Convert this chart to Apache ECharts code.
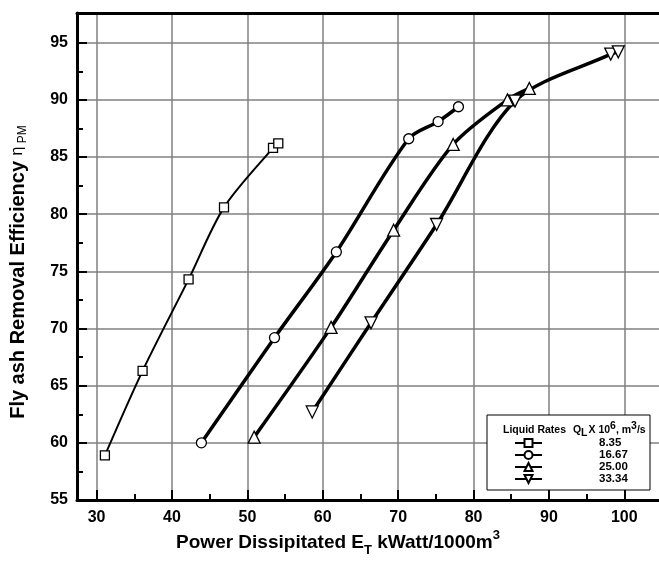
<!DOCTYPE html>
<html>
<head>
<meta charset="utf-8">
<script src="https://cdn.jsdelivr.net/npm/echarts@6/dist/echarts.min.js"></script>
<style>
  html, body { margin: 0; padding: 0; background: #fff; }
  #chart { width: 659px; height: 566px; }
</style>
</head>
<body>
<div id="chart"></div>
<script>
  // liquid rates Q_L x 10^6 m3/s
  const rateNames = ['8.35', '16.67', '25.00', '33.34']
  // power dissipated (x) and fly ash removal efficiency (y)
  const power835 = [31.1, 36.1, 42.2, 46.9, 53.4, 54.1]
  const eff835 = [58.9, 66.3, 74.3, 80.6, 85.8, 86.2]
  const power1667 = [43.9, 53.6, 61.8, 71.4, 75.3, 78.0]
  const eff1667 = [60.0, 69.2, 76.7, 86.6, 88.1, 89.4]
  const power2500 = [50.9, 61.1, 69.4, 77.3, 84.5, 87.4]
  const eff2500 = [60.5, 70.1, 78.6, 86.1, 90.0, 91.0]
  const power3334 = [58.6, 66.4, 75.1, 85.5, 98.2, 99.2]
  const eff3334 = [62.7, 70.5, 79.1, 89.9, 94.0, 94.2]

  const xMajorTicks = [30, 40, 50, 60, 70, 80, 90, 100]
  const xMinorTicks = [35, 45, 55, 65, 75, 85, 95]
  const yMajorTicks = [55, 60, 65, 70, 75, 80, 85, 90, 95]
  const yMinorTicks = [57.5, 62.5, 67.5, 72.5, 77.5, 82.5, 87.5, 92.5, 97.5]

  const font = 'Liberation Sans, Arial, sans-serif'
  const xMin = 27.4, xMax = 104.6, yMin = 55, yMax = 97.6

  function pairs(xs, ys) {
    return xs.map((x, i) => [x, ys[i]])
  }

  function makeSeries(name, xs, ys, symbol, size, width, rotate) {
    return {
      name: name,
      type: 'line',
      data: pairs(xs, ys),
      smooth: 0.3,
      symbol: symbol,
      symbolSize: size,
      symbolRotate: rotate || 0,
      showAllSymbol: true,
      lineStyle: { color: '#000', width: width },
      itemStyle: { color: '#fff', borderColor: '#000', borderWidth: 1.3 },
      emphasis: { disabled: true },
      z: 5,
    }
  }

  const chart = echarts.init(document.getElementById('chart'))
  const option = {
    animation: false,
    backgroundColor: '#fff',
    grid: { left: 77, right: 0, top: 13, bottom: 66 },
    xAxis: [
      {
        type: 'value', min: xMin, max: xMax, position: 'bottom',
        axisLine: { show: true, onZero: false, lineStyle: { color: '#000', width: 3 } },
        axisTick: { show: true, inside: true, length: 10, customValues: xMajorTicks, lineStyle: { color: '#000', width: 2 } },
        axisLabel: { customValues: xMajorTicks, color: '#000', fontFamily: font, fontSize: 16, fontWeight: 'bold', margin: 10 },
        splitLine: { show: true, lineStyle: { color: '#808080', width: 1.5 } },
      },
      {
        type: 'value', min: xMin, max: xMax, position: 'bottom',
        axisLine: { show: false },
        axisTick: { show: true, inside: true, length: 6, customValues: xMinorTicks, lineStyle: { color: '#000', width: 2 } },
        axisLabel: { show: false },
        splitLine: { show: false },
      },
      {
        type: 'value', min: xMin, max: xMax, position: 'top',
        axisLine: { show: true, lineStyle: { color: '#000', width: 3 } },
        axisTick: { show: false },
        axisLabel: { show: false },
        splitLine: { show: false },
      },
    ],
    yAxis: [
      {
        type: 'value', min: yMin, max: yMax, position: 'left',
        axisLine: { show: true, onZero: false, lineStyle: { color: '#000', width: 3 } },
        axisTick: { show: true, inside: true, length: 10, customValues: yMajorTicks, lineStyle: { color: '#000', width: 2 } },
        axisLabel: { customValues: yMajorTicks, color: '#000', fontFamily: font, fontSize: 16, fontWeight: 'bold', margin: 9 },
        splitLine: { show: true, lineStyle: { color: '#808080', width: 1.5 } },
      },
      {
        type: 'value', min: yMin, max: yMax, position: 'left',
        axisLine: { show: false },
        axisTick: { show: true, inside: true, length: 6, customValues: yMinorTicks, lineStyle: { color: '#000', width: 2 } },
        axisLabel: { show: false },
        splitLine: { show: false },
      },
    ],
    legend: {
      data: rateNames,
      orient: 'vertical',
      left: 514,
      top: 437,
      itemWidth: 27,
      itemHeight: 10,
      itemGap: 0,
      padding: 0,
      z: 60,
      selectedMode: false,
      textStyle: { color: '#000', fontFamily: font, fontSize: 11.5, fontWeight: 'bold', lineHeight: 11.7, padding: [0, 0, 0, 52] },
    },
    graphic: [
      {
        type: 'rect', z: 50,
        shape: { x: 487, y: 415, width: 163, height: 75 },
        style: { fill: '#fff', stroke: '#000', lineWidth: 1 },
      },
      {
        type: 'text', z: 55, left: 503, top: 421,
        style: {
          text: '{a|Liquid Rates }{q|Q}{s|L}{a|X 10}{p|6}{a|, m}{p|3}{a|/s}',
          rich: {
            a: { fontFamily: font, fontSize: 10.5, fontWeight: 'bold', fill: '#000', lineHeight: 18 },
            q: { fontFamily: font, fontSize: 10.5, fontWeight: 'bold', fill: '#000', lineHeight: 18, padding: [0, 0, 0, 4] },
            s: { fontFamily: font, fontSize: 10.5, fontWeight: 'bold', fill: '#000', lineHeight: 9, verticalAlign: 'bottom', padding: [0, 1, 0, 0] },
            p: { fontFamily: font, fontSize: 10.5, fontWeight: 'bold', fill: '#000', lineHeight: 9, verticalAlign: 'top' },
          },
        },
      },
      {
        type: 'text', z: 55, x: 338, y: 543,
        style: {
          text: '{t|Power Dissipitated E}{s|T}{t| kWatt/1000m}{p|3}',
          align: 'center', verticalAlign: 'middle',
          rich: {
            t: { fontFamily: font, fontSize: 19, fontWeight: 'bold', fill: '#000', lineHeight: 28 },
            s: { fontFamily: font, fontSize: 13, fontWeight: 'bold', fill: '#000', lineHeight: 14, verticalAlign: 'bottom' },
            p: { fontFamily: font, fontSize: 13, fontWeight: 'bold', fill: '#000', lineHeight: 14, verticalAlign: 'top' },
          },
        },
      },
      {
        type: 'text', z: 55, x: 18, y: 272, rotation: Math.PI / 2,
        style: {
          text: '{t|Fly ash Removal Efficiency }{e|η}{s| PM}',
          align: 'center', verticalAlign: 'middle',
          rich: {
            t: { fontFamily: font, fontSize: 20, fontWeight: 'bold', fill: '#000', lineHeight: 26 },
            e: { fontFamily: font, fontSize: 16, fill: '#000', lineHeight: 26 },
            s: { fontFamily: font, fontSize: 12, fill: '#000', lineHeight: 12, verticalAlign: 'bottom', padding: [0, 0, 2, 0] },
          },
        },
      },
    ],
    series: [
      makeSeries(rateNames[0], power835, eff835, 'rect', 9, 2),
      makeSeries(rateNames[1], power1667, eff1667, 'circle', 10, 3.5),
      makeSeries(rateNames[2], power2500, eff2500, 'triangle', 12, 3.5),
      makeSeries(rateNames[3], power3334, eff3334, 'triangle', 12, 3.5, 180),
    ],
  }
  chart.setOption(option)
</script>
</body>
</html>
